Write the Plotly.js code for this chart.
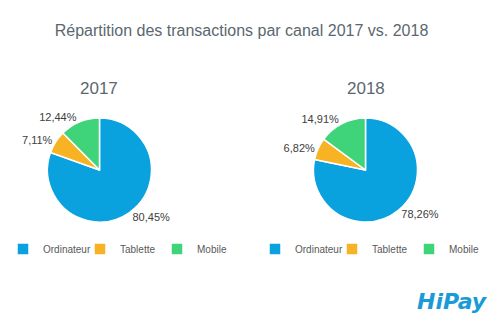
<!DOCTYPE html>
<html><head><meta charset="utf-8">
<script src="https://cdn.plot.ly/plotly-3.0.1.min.js"></script>
<style>html,body{margin:0;padding:0;background:#fff}#c{width:500px;height:333px}</style>
</head><body><div id="c"></div>
<script>
const categories = ["Ordinateur", "Tablette", "Mobile"];
const values2017 = [80.45, 7.11, 12.44];
const values2018 = [78.26, 6.82, 14.91];
const years = ["2017", "2018"];
const colors = ["#0AA2DE", "#F8B324", "#3FD47A"];

function pie(vals, dom, leg, grp) {
  return {
    type: "pie", labels: categories, values: vals, sort: false,
    direction: "clockwise", rotation: 0,
    marker: {colors: colors, line: {color: "#ffffff", width: 1.5}},
    texttemplate: "%{value:.2f}%", textposition: "outside",
    textfont: {family: "Liberation Sans, Arial", size: 11, color: "#404040"},
    hoverinfo: "label+value",
    domain: dom, legend: leg, legendgroup: grp, showlegend: true
  };
}
const data = [
  pie(values2017, {x: [0.095, 0.303], y: [0.333, 0.646]}, "legend", years[0]),
  pie(values2018, {x: [0.627, 0.835], y: [0.333, 0.646]}, "legend2", years[1])
];
const legStyle = {orientation: "h", traceorder: "normal", yanchor: "middle", y: 0.252, itemwidth: 30, xanchor: "left",
  entrywidth: 32, entrywidthmode: "pixels",
  font: {family: "Liberation Sans, Arial", size: 10, color: "#595959"}, bgcolor: "rgba(0,0,0,0)"};
const layout = {
  width: 500, height: 333, margin: {l: 0, r: 0, t: 0, b: 0},
  paper_bgcolor: "#ffffff", separators: ", ",
  title: {text: "Répartition des transactions par canal 2017 vs. 2018", x: 0.483, xanchor: "center", y: 0.91, yanchor: "middle",
          font: {family: "Liberation Sans, Arial", size: 16, color: "#5B6770"}},
  legend: Object.assign({x: 0.006}, legStyle),
  legend2: Object.assign({x: 0.51}, legStyle),
  annotations: [
    {text: years[0], x: 0.197, y: 0.735, xref: "paper", yref: "paper", showarrow: false, xanchor: "center", yanchor: "middle",
     font: {family: "Liberation Sans, Arial", size: 17, color: "#5B6770"}},
    {text: years[1], x: 0.732, y: 0.735, xref: "paper", yref: "paper", showarrow: false, xanchor: "center", yanchor: "middle",
     font: {family: "Liberation Sans, Arial", size: 17, color: "#5B6770"}},
    {text: "<b><i>HiPay</i></b>", x: 0.98, y: 0.095, xref: "paper", yref: "paper", showarrow: false, xanchor: "right", yanchor: "middle",
     font: {family: "DejaVu Sans, sans-serif", size: 22, color: "#1A9BD7"}}
  ]
};
Plotly.newPlot("c", data, layout, {displayModeBar: false, staticPlot: true});
</script></body></html>
